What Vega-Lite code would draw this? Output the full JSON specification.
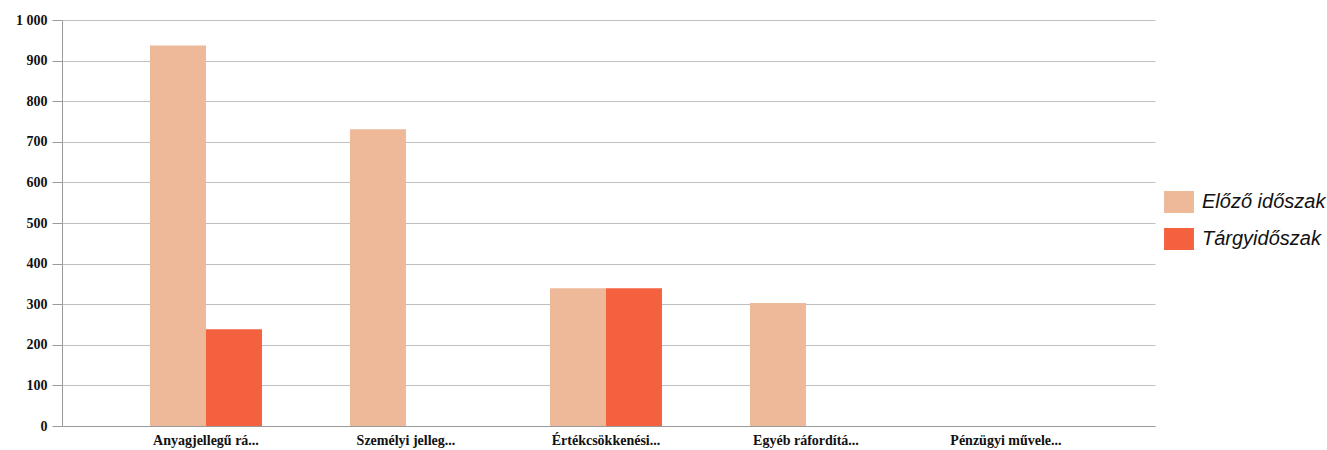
{
  "$schema": "https://vega.github.io/schema/vega-lite/v6.json",
  "autosize": "none",
  "width": 1093,
  "height": 406,
  "padding": {"left": 62, "top": 20, "right": 172, "bottom": 24},
  "background": "#ffffff",
  "config": {
    "view": {"stroke": null},
    "axis": {
      "labelFont": "Liberation Serif",
      "labelFontWeight": "bold",
      "labelFontSize": 14,
      "labelColor": "#111111",
      "domainColor": "#9a9a9a",
      "tickColor": "#9a9a9a",
      "gridColor": "#c0c0c0"
    }
  },
  "data": {
    "values": [
      {"kategoria": "Anyagjellegű rá...", "sorozat": "Előző időszak", "ertek": 937},
      {"kategoria": "Anyagjellegű rá...", "sorozat": "Tárgyidőszak", "ertek": 238},
      {"kategoria": "Személyi jelleg...", "sorozat": "Előző időszak", "ertek": 731},
      {"kategoria": "Személyi jelleg...", "sorozat": "Tárgyidőszak", "ertek": 0},
      {"kategoria": "Értékcsökkenési...", "sorozat": "Előző időszak", "ertek": 339},
      {"kategoria": "Értékcsökkenési...", "sorozat": "Tárgyidőszak", "ertek": 339},
      {"kategoria": "Egyéb ráfordítá...", "sorozat": "Előző időszak", "ertek": 303},
      {"kategoria": "Egyéb ráfordítá...", "sorozat": "Tárgyidőszak", "ertek": 0},
      {"kategoria": "Pénzügyi művele...", "sorozat": "Előző időszak", "ertek": 0},
      {"kategoria": "Pénzügyi művele...", "sorozat": "Tárgyidőszak", "ertek": 0}
    ]
  },
  "mark": {"type": "bar"},
  "encoding": {
    "x": {
      "field": "kategoria",
      "type": "nominal",
      "sort": null,
      "title": null,
      "scale": {"paddingInner": 0.44, "paddingOuter": 0.4525, "align": 0.486},
      "axis": {"labelAngle": 0, "ticks": false, "labelPadding": 7, "domainColor": "#9a9a9a", "labelFontSize": 14}
    },
    "xOffset": {
      "field": "sorozat",
      "type": "nominal",
      "sort": ["Előző időszak", "Tárgyidőszak"],
      "scale": {"paddingInner": 0, "paddingOuter": 0}
    },
    "y": {
      "field": "ertek",
      "type": "quantitative",
      "title": null,
      "scale": {"domain": [0, 1000], "nice": false},
      "axis": {
        "values": [0, 100, 200, 300, 400, 500, 600, 700, 800, 900, 1000],
        "tickSize": 10,
        "labelPadding": 5,
        "labelFontSize": 14,
        "labelExpr": "datum.value == 1000 ? '1 000' : datum.label"
      }
    },
    "color": {
      "field": "sorozat",
      "type": "nominal",
      "sort": ["Előző időszak", "Tárgyidőszak"],
      "scale": {"domain": ["Előző időszak", "Tárgyidőszak"], "range": ["#EDB998", "#F4613F"]},
      "legend": {
        "title": null,
        "orient": "none",
        "legendX": 1106,
        "legendY": 171,
        "symbolType": "M-1.36,-1H1.36V1H-1.36Z",
        "symbolSize": 484,
        "symbolStrokeWidth": 0,
        "labelFont": "Liberation Sans",
        "labelFontStyle": "italic",
        "labelFontSize": 20,
        "labelColor": "#111111",
        "labelOffset": 12,
        "rowPadding": 15,
        "labelLimit": 300
      }
    }
  }
}
